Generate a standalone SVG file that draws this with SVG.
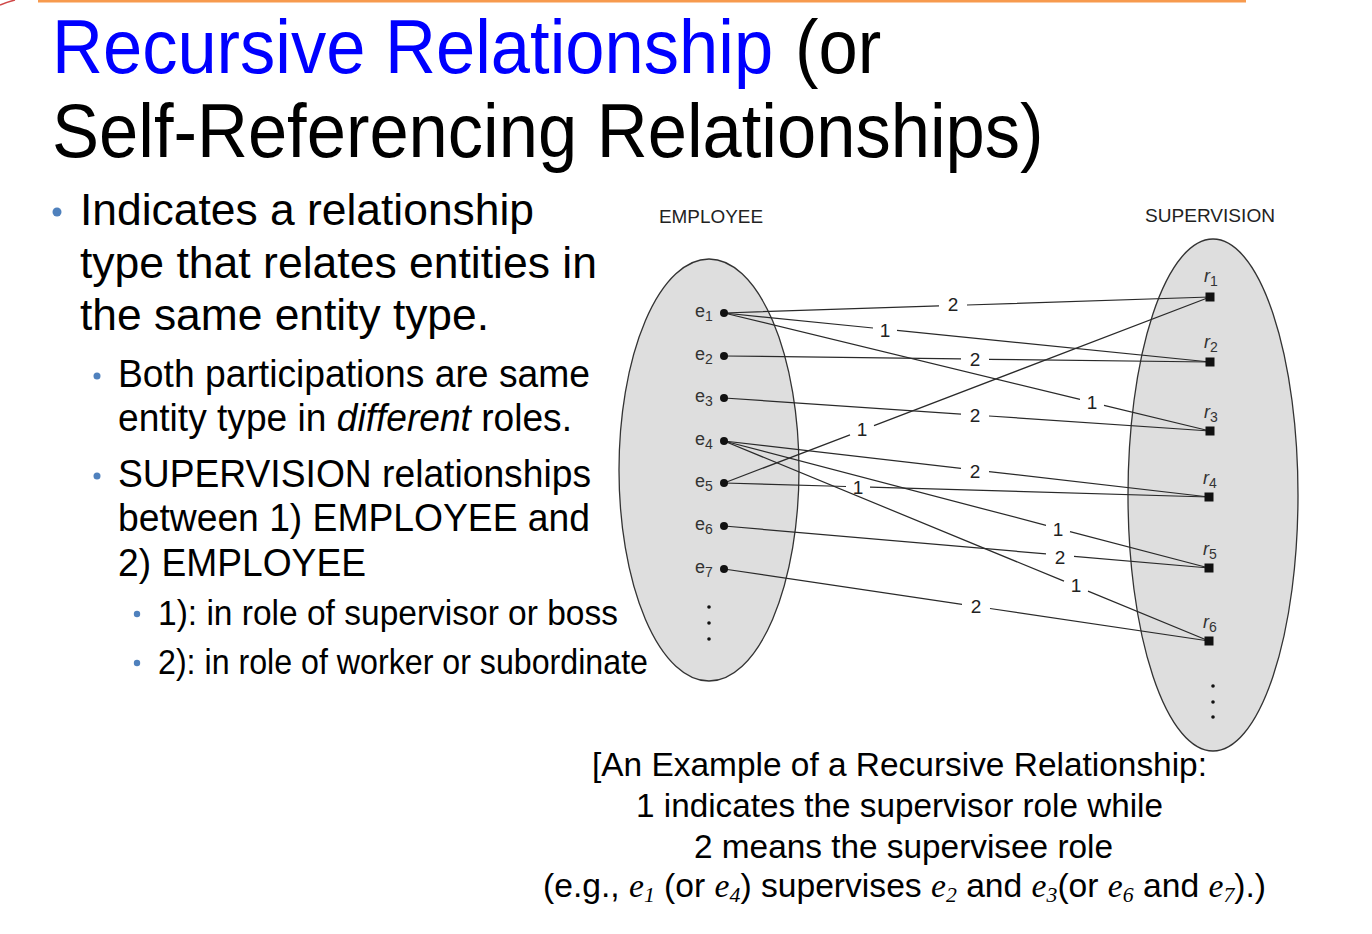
<svg xmlns="http://www.w3.org/2000/svg" width="1372" height="934" viewBox="0 0 1372 934">
<style>
text{font-family:"Liberation Sans",Arial,sans-serif;fill:#000}
.title{font-size:76px}
.b1{font-size:44px}
.b2{font-size:38px}
.b3{font-size:35px}
.cap{font-size:34px}
.ei{font-family:"Liberation Serif","Times New Roman",serif;font-style:italic;font-size:34px}
.es{font-family:"Liberation Serif","Times New Roman",serif;font-style:italic;font-size:22px}
.set{fill:#dedede;stroke:#333;stroke-width:1.3}
.hdr{font-size:18.5px;fill:#222}
.el{font-size:18px;fill:#333}
.sub{font-size:14px}
.rl{font-size:18px;font-style:italic;fill:#333}
.num{font-size:19px;fill:#222;text-anchor:middle}
.conn path{fill:none;stroke:#2a2a2a;stroke-width:1.25}
.dot{fill:#111}
.sq{fill:#111}
.bul{fill:#4f81bd}
</style>
<rect x="38" y="0" width="1208" height="2.5" fill="#f79a4e"/>
<path d="M0,5 Q7,2 15,0" fill="none" stroke="#d04848" stroke-width="1.5"/>
<g id="title">
<text class="title" transform="translate(52,73) scale(0.928,1)" x="0" y="0" style="fill:#0000ff">Recursive Relationship</text>
<text class="title" transform="translate(795,73) scale(0.928,1)" x="0" y="0">(or</text>
<text class="title" transform="translate(52,157) scale(0.928,1)" x="0" y="0">Self-Referencing Relationships)</text>
</g>
<g id="bullets">
<circle class="bul" cx="57" cy="212" r="4.5"/>
<text class="b1" x="80" y="225" textLength="454" lengthAdjust="spacingAndGlyphs">Indicates a relationship</text>
<text class="b1" x="80" y="278" textLength="517" lengthAdjust="spacingAndGlyphs">type that relates entities in</text>
<text class="b1" x="80" y="330" textLength="409" lengthAdjust="spacingAndGlyphs">the same entity type.</text>
<circle class="bul" cx="97" cy="376" r="3.5"/>
<text class="b2" x="118" y="387" textLength="472" lengthAdjust="spacingAndGlyphs">Both participations are same</text>
<text class="b2" x="118" y="431" textLength="454" lengthAdjust="spacingAndGlyphs">entity type in <tspan font-style="italic">different</tspan> roles.</text>
<circle class="bul" cx="97" cy="476" r="3.5"/>
<text class="b2" x="118" y="487" textLength="473" lengthAdjust="spacingAndGlyphs">SUPERVISION relationships</text>
<text class="b2" x="118" y="531" textLength="472" lengthAdjust="spacingAndGlyphs">between 1) EMPLOYEE and</text>
<text class="b2" x="118" y="576" textLength="248" lengthAdjust="spacingAndGlyphs">2) EMPLOYEE</text>
<circle class="bul" cx="137" cy="614" r="3.2"/>
<text class="b3" x="158" y="625" textLength="460" lengthAdjust="spacingAndGlyphs">1): in role of supervisor or boss</text>
<circle class="bul" cx="137" cy="663" r="3.2"/>
<text class="b3" x="158" y="674" textLength="490" lengthAdjust="spacingAndGlyphs">2): in role of worker or subordinate</text>
</g>
<g id="employee-set">
<ellipse class="set" cx="709" cy="470" rx="90" ry="211"/>
<text class="hdr" x="659" y="223" textLength="104" lengthAdjust="spacingAndGlyphs">EMPLOYEE</text>
<circle class="dot" cx="709" cy="607" r="1.8"/>
<circle class="dot" cx="709" cy="623" r="1.8"/>
<circle class="dot" cx="709" cy="639" r="1.8"/>
</g>
<g id="supervision-set">
<ellipse class="set" cx="1213" cy="495" rx="85" ry="256"/>
<text class="hdr" x="1145" y="222" textLength="130" lengthAdjust="spacingAndGlyphs">SUPERVISION</text>
<circle class="dot" cx="1213" cy="686" r="1.8"/>
<circle class="dot" cx="1213" cy="702" r="1.8"/>
<circle class="dot" cx="1213" cy="717" r="1.8"/>
</g>
<g id="connectors" class="conn">
<path d="M724,313 L939,305.9 M967,305 L1210,297"/>
<path d="M724,313 L873,328 M897,330.4 L1210,362"/>
<path d="M724,356 L961,358.9 M989,359.3 L1210,362"/>
<path d="M724,313 L1080,399.4 M1104,405.3 L1210,431"/>
<path d="M724,398 L961,414.1 M989,416 L1210,431"/>
<path d="M724,483 L850,434.8 M874,425.6 L1210,297"/>
<path d="M724,441 L961,468.4 M989,471.6 L1209,497"/>
<path d="M724,483 L846,486.5 M870,487.2 L1209,497"/>
<path d="M724,441 L1046,525.3 M1070,531.6 L1209,568"/>
<path d="M724,526 L1046,553.9 M1074,556.3 L1209,568"/>
<path d="M724,441 L1064,581.2 M1088,591.1 L1209,641"/>
<path d="M724,569 L962,604.3 M990,608.5 L1209,641"/>
<text class="num" x="953" y="311">2</text>
<text class="num" x="885" y="337">1</text>
<text class="num" x="975" y="366">2</text>
<text class="num" x="1092" y="409">1</text>
<text class="num" x="975" y="422">2</text>
<text class="num" x="862" y="436">1</text>
<text class="num" x="975" y="478">2</text>
<text class="num" x="858" y="494">1</text>
<text class="num" x="1058" y="536">1</text>
<text class="num" x="1060" y="564">2</text>
<text class="num" x="1076" y="592">1</text>
<text class="num" x="976" y="613">2</text>
</g>
<g id="e1"><circle class="dot" cx="724" cy="313" r="4"/><text class="el" x="695" y="317">e<tspan class="sub" dy="4">1</tspan></text></g>
<g id="e2"><circle class="dot" cx="724" cy="356" r="4"/><text class="el" x="695" y="360">e<tspan class="sub" dy="4">2</tspan></text></g>
<g id="e3"><circle class="dot" cx="724" cy="398" r="4"/><text class="el" x="695" y="402">e<tspan class="sub" dy="4">3</tspan></text></g>
<g id="e4"><circle class="dot" cx="724" cy="441" r="4"/><text class="el" x="695" y="445">e<tspan class="sub" dy="4">4</tspan></text></g>
<g id="e5"><circle class="dot" cx="724" cy="483" r="4"/><text class="el" x="695" y="487">e<tspan class="sub" dy="4">5</tspan></text></g>
<g id="e6"><circle class="dot" cx="724" cy="526" r="4"/><text class="el" x="695" y="530">e<tspan class="sub" dy="4">6</tspan></text></g>
<g id="e7"><circle class="dot" cx="724" cy="569" r="4"/><text class="el" x="695" y="573">e<tspan class="sub" dy="4">7</tspan></text></g>
<g id="r1"><rect class="sq" x="1205.5" y="292.5" width="9" height="9"/><text class="rl" x="1204" y="282">r<tspan class="sub" font-style="normal" dy="4">1</tspan></text></g>
<g id="r2"><rect class="sq" x="1205.5" y="357.5" width="9" height="9"/><text class="rl" x="1204" y="348">r<tspan class="sub" font-style="normal" dy="4">2</tspan></text></g>
<g id="r3"><rect class="sq" x="1205.5" y="426.5" width="9" height="9"/><text class="rl" x="1204" y="418">r<tspan class="sub" font-style="normal" dy="4">3</tspan></text></g>
<g id="r4"><rect class="sq" x="1204.5" y="492.5" width="9" height="9"/><text class="rl" x="1203" y="484">r<tspan class="sub" font-style="normal" dy="4">4</tspan></text></g>
<g id="r5"><rect class="sq" x="1204.5" y="563.5" width="9" height="9"/><text class="rl" x="1203" y="555">r<tspan class="sub" font-style="normal" dy="4">5</tspan></text></g>
<g id="r6"><rect class="sq" x="1204.5" y="636.5" width="9" height="9"/><text class="rl" x="1203" y="628">r<tspan class="sub" font-style="normal" dy="4">6</tspan></text></g>
<g id="caption">
<text class="cap" x="592" y="776" textLength="615" lengthAdjust="spacingAndGlyphs">[An Example of a Recursive Relationship:</text>
<text class="cap" x="636" y="817" textLength="527" lengthAdjust="spacingAndGlyphs">1 indicates the supervisor role while</text>
<text class="cap" x="694" y="858" textLength="419" lengthAdjust="spacingAndGlyphs">2 means the supervisee role</text>
<text class="cap" x="543" y="897" textLength="723" lengthAdjust="spacingAndGlyphs">(e.g., <tspan class="ei">e</tspan><tspan class="es" dy="5">1</tspan><tspan dy="-5"> (or </tspan><tspan class="ei">e</tspan><tspan class="es" dy="5">4</tspan><tspan dy="-5">) supervises </tspan><tspan class="ei">e</tspan><tspan class="es" dy="5">2</tspan><tspan dy="-5"> and </tspan><tspan class="ei">e</tspan><tspan class="es" dy="5">3</tspan><tspan dy="-5">(or </tspan><tspan class="ei">e</tspan><tspan class="es" dy="5">6</tspan><tspan dy="-5"> and </tspan><tspan class="ei">e</tspan><tspan class="es" dy="5">7</tspan><tspan dy="-5">).)</tspan></text>
</g>
</svg>
